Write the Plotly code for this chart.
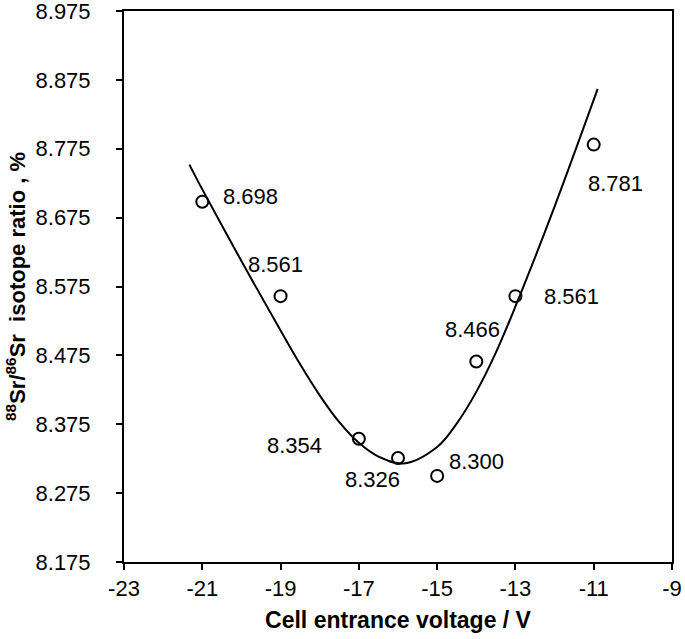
import plotly.graph_objects as go

# Data
voltage = [-21, -19, -17, -16, -15, -14, -13, -11]
ratio = [8.698, 8.561, 8.354, 8.326, 8.300, 8.466, 8.561, 8.781]
labels = ["8.698", "8.561", "8.354", "8.326", "8.300", "8.466", "8.561", "8.781"]
x_ticks = [-23, -21, -19, -17, -15, -13, -11, -9]
y_ticks = [8.175, 8.275, 8.375, 8.475, 8.575, 8.675, 8.775, 8.875, 8.975]

# trend curve
fit_x = [-21.33, -21.0, -20.0, -19.0, -18.5, -18.0, -17.5, -17.0, -16.5, -15.86,
         -15.0, -14.5, -14.0, -13.5, -13.0, -12.0, -11.0, -10.9]
fit_y = [8.752, 8.716, 8.612, 8.511, 8.462, 8.417, 8.378, 8.348, 8.328, 8.318,
         8.342, 8.376, 8.422, 8.479, 8.546, 8.691, 8.846, 8.862]

# label offsets in pixels (style)
label_dx = [48, -5, -64, -26, 39, -4, 56, 22]
label_dy = [-5, -32, 7, 21, -14, -32, 0, 39]

FONT = "Liberation Sans, Arial, sans-serif"

fig = go.Figure()
fig.add_trace(go.Scatter(x=fit_x, y=fit_y, mode="lines",
                         line=dict(color="black", width=2, shape="spline", smoothing=1.0),
                         hoverinfo="skip"))
fig.add_trace(go.Scatter(x=voltage, y=ratio, mode="markers",
                         marker=dict(symbol="circle-open", size=12, color="black",
                                     line=dict(width=2, color="black"))))

for x, y, t, dx, dy in zip(voltage, ratio, labels, label_dx, label_dy):
    fig.add_annotation(x=x, y=y, text=t, showarrow=False, xshift=dx, yshift=-dy,
                       font=dict(family=FONT, size=22, color="black"))

fig.update_layout(
    width=685, height=639,
    margin=dict(l=124, r=13, t=11, b=77),
    paper_bgcolor="white", plot_bgcolor="white",
    showlegend=False,
    font=dict(family=FONT, size=22, color="black"),
)
fig.update_xaxes(range=[-23, -9], tickvals=x_ticks, ticktext=[str(v) for v in x_ticks],
                 automargin=False, ticklabeloverflow="allow",
                 showgrid=False, zeroline=False, showline=True, mirror=True,
                 linecolor="black", linewidth=2, ticks="outside", ticklen=6,
                 tickwidth=2, tickcolor="black",
                 tickfont=dict(family=FONT, size=22, color="black"),
                 title=dict(text="<b>Cell entrance voltage / V</b>", standoff=11,
                            font=dict(family=FONT, size=23, color="black")))
fig.update_yaxes(range=[8.175, 8.975], tickvals=y_ticks,
                 ticktext=[f"{v:.3f}" for v in y_ticks],
                 automargin=False, ticklabeloverflow="allow",
                 showgrid=False, zeroline=False, showline=True, mirror=True,
                 linecolor="black", linewidth=2, ticks="outside", ticklen=6,
                 tickwidth=2, tickcolor="black", ticklabelstandoff=21,
                 tickfont=dict(family=FONT, size=22, color="black"),
                 title=dict(text="<b><sup>88</sup>Sr/<sup>86</sup>Sr  isotope ratio , %</b>",
                            standoff=4,
                            font=dict(family=FONT, size=22, color="black")))

fig.write_html("out.html", config={"displayModeBar": False},
               post_script="document.body.style.margin='0';")
